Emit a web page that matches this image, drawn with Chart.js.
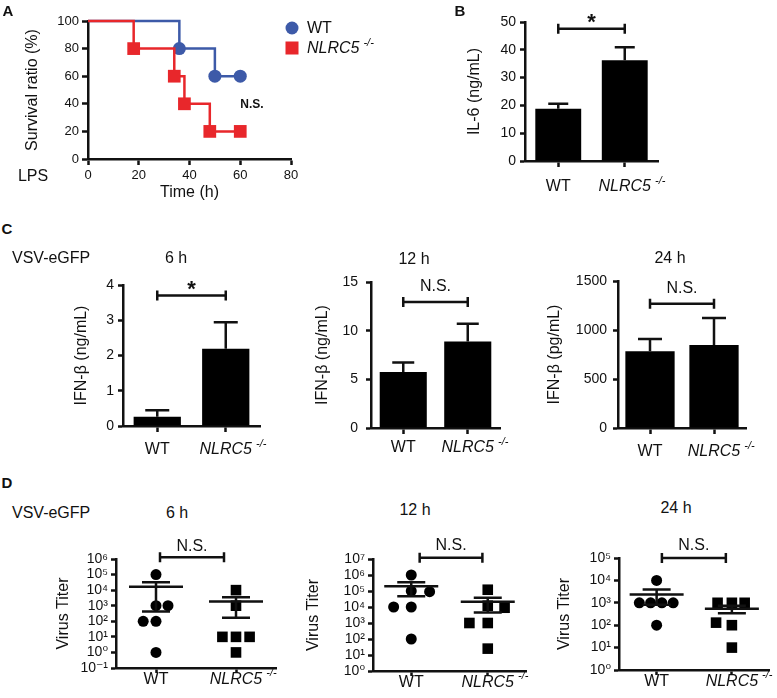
<!DOCTYPE html>
<html><head><meta charset="utf-8">
<script src="https://cdn.jsdelivr.net/npm/chart.js@4"></script>
<style>
html,body{margin:0;padding:0;background:#fff;}
#fig{position:relative;width:777px;height:698px;overflow:hidden;font-family:'Liberation Sans',Arial,Helvetica,sans-serif;color:#111;}
#fig canvas{position:absolute;}
.t{position:absolute;white-space:nowrap;line-height:1;transform:translate(-50%,-50%);}
.tl{position:absolute;white-space:nowrap;line-height:1;transform:translate(0,-50%);}
.b{font-weight:bold;}
</style></head><body><div id="fig"></div>
<script>
// ---------------- data ----------------
const groups = ['WT', 'NLRC5'];
const genotypeSuffix = '-/-';
const seriesNames = ['WT', 'NLRC5'];

// Panel A: survival after LPS
const timeWT = [0, 36, 50, 60];
const survivalWT = [100, 80, 60, 60];
const timeKO = [0, 18, 34, 38, 48, 60];
const survivalKO = [100, 80, 60, 40, 20, 20];
const timeTicks = [0, 20, 40, 60, 80];
const survivalTicks = [0, 20, 40, 60, 80, 100];

// Panel B: IL-6
const il6Mean = [18.8, 36.2];
const il6Sem = [1.8, 4.7];
const il6Ticks = [0, 10, 20, 30, 40, 50];

// Panel C: IFN-beta
const ifn6Mean = [0.26, 2.19];
const ifn6Sem = [0.19, 0.75];
const ifn6Ticks = [0, 1, 2, 3, 4];
const ifn12Mean = [5.75, 8.88];
const ifn12Sem = [0.97, 1.82];
const ifn12Ticks = [0, 5, 10, 15];
const ifn24Mean = [782, 847];
const ifn24Sem = [126, 275];
const ifn24Ticks = [0, 500, 1000, 1500];

// Panel D: virus titer (points, group position incl. jitter, mean, SEM)
const titer6WT = [1e5, 1e3, 1e3, 1e2, 1e2, 1];
const titer6WTPos = [1.0, 1.0, 1.15, 0.84, 1.0, 1.0];
const titer6KO = [1e4, 1e3, 10, 10, 10, 1];
const titer6KOPos = [2.0, 2.0, 1.83, 2.0, 2.17, 2.0];
const titer6Mean = [16500, 1860];
const titer6Sem = [16070, 1690];
const titer6Ticks = [0.1, 1, 10, 100, 1e3, 1e4, 1e5, 1e6];

const titer12WT = [1e6, 1e5, 9e4, 1e4, 1e4, 100];
const titer12WTPos = [1.0, 1.0, 1.24, 0.77, 1.0, 1.0];
const titer12KO = [1.2e5, 1.2e4, 9e3, 1e3, 1e3, 25];
const titer12KOPos = [2.0, 2.0, 2.22, 1.76, 2.0, 2.0];
const titer12Mean = [197500, 21300];
const titer12Sem = [150000, 16700];
const titer12Ticks = [1, 10, 100, 1e3, 1e4, 1e5, 1e6, 1e7];

const titer24WT = [1e4, 1e3, 1e3, 1e3, 1e3, 100];
const titer24WTPos = [1.0, 0.77, 0.92, 1.07, 1.22, 1.0];
const titer24KO = [1e3, 1e3, 1e3, 130, 100, 10];
const titer24KOPos = [1.81, 2.0, 2.17, 1.79, 2.0, 2.0];
const titer24Mean = [2350, 540];
const titer24Sem = [1540, 200];
const titer24Ticks = [1, 10, 100, 1e3, 1e4, 1e5];

// ---------------- helpers ----------------
const FONT = "'Liberation Sans', Arial, Helvetica, 'DejaVu Sans', sans-serif";
const INK = '#111';
const BLUE = '#3d5aa8';
const RED = '#e8272b';
Chart.defaults.font.family = FONT;
Chart.defaults.color = INK;
const fig = document.getElementById('fig');

function text(str, x, y, size, cls, extra) {
  const d = document.createElement('div');
  d.className = cls || 't';
  d.style.left = x + 'px'; d.style.top = y + 'px'; d.style.fontSize = size + 'px';
  d.innerHTML = str;
  if (extra) Object.assign(d.style, extra);
  fig.appendChild(d);
}
function addCanvas(box) {
  const c = document.createElement('canvas');
  c.width = box.w; c.height = box.h;
  c.style.left = box.x + 'px'; c.style.top = box.y + 'px';
  c.style.width = box.w + 'px'; c.style.height = box.h + 'px';
  fig.appendChild(c);
  return c;
}
function frame(box, plot, yTitleCx, xTitleCy) {
  const lh = 16 * 1.2;
  const left = yTitleCx - box.x - lh / 2;
  const yW = plot.l - box.x - left;
  const bottom = xTitleCy ? (box.y + box.h - xTitleCy - lh / 2) : 0;
  const xH = box.y + box.h - bottom - plot.b;
  return { padding: { left, top: plot.t - box.y, right: box.x + box.w - plot.r, bottom }, yW, xH };
}
function axisStyle(len) {
  return {
    grid: { display: true, drawOnChartArea: false, drawTicks: true, tickLength: len, tickWidth: 2.5, tickColor: INK, offset: false },
    border: { display: true, width: 2.5, color: INK }
  };
}
const SUP = { '-': '\u207B', '0': '\u2070', '1': '\u00B9', '2': '\u00B2', '3': '\u00B3', '4': '\u2074', '5': '\u2075', '6': '\u2076', '7': '\u2077', '8': '\u2078', '9': '\u2079' };
function powLabel(v) {
  const e = String(Math.round(Math.log10(v)));
  return '10' + e.split('').map(ch => SUP[ch]).join('');
}
function baseOptions(fr) {
  return {
    responsive: false, animation: false, devicePixelRatio: 1, events: [],
    layout: { padding: fr.padding },
    plugins: { legend: { display: false }, tooltip: { enabled: false } }
  };
}
function xGroupTicks(pad) {
  return {
    font: (c) => ({ size: 16, style: c.index === 1 ? 'italic' : 'normal' }),
    padding: pad, color: INK, maxRotation: 0, autoSkip: false
  };
}
// superscript "-/-" after the NLRC5 tick label
function supPlugin(value, pad, len) {
  return { id: 'sup', afterDraw(chart) {
    const s = chart.scales.x, ctx = chart.ctx;
    const px = s.getPixelForValue(value);
    ctx.save();
    ctx.font = 'italic 16px ' + FONT;
    const w = ctx.measureText(groups[1]).width;
    const cy = s.top + len + pad + 16 * 1.2 / 2;
    ctx.font = 'italic 11px ' + FONT;
    ctx.fillStyle = INK; ctx.textAlign = 'left'; ctx.textBaseline = 'middle';
    ctx.fillText(genotypeSuffix, px + w / 2 + 4, cy - 6);
    ctx.restore();
  } };
}
function bracketPlugin(b) {
  return { id: 'bracket', afterDraw(chart) {
    const xs = chart.scales.x, ys = chart.scales.y, ctx = chart.ctx;
    const x1 = xs.getPixelForValue(b.from), x2 = xs.getPixelForValue(b.to), y = ys.getPixelForValue(b.level);
    ctx.save();
    ctx.strokeStyle = INK; ctx.lineWidth = 2.5; ctx.lineCap = 'butt';
    ctx.beginPath();
    ctx.moveTo(x1, y); ctx.lineTo(x2, y);
    ctx.moveTo(x1, y - 5); ctx.lineTo(x1, y + 5);
    ctx.moveTo(x2, y - 5); ctx.lineTo(x2, y + 5);
    ctx.stroke();
    ctx.font = b.font; ctx.fillStyle = INK; ctx.textAlign = 'center'; ctx.textBaseline = 'middle';
    ctx.fillText(b.text, (x1 + x2) / 2, y - b.dy);
    ctx.restore();
  } };
}
function barErrorPlugin(mean, sem, cap) {
  return { id: 'barerr', afterDatasetsDraw(chart) {
    const ys = chart.scales.y, ctx = chart.ctx;
    const meta = chart.getDatasetMeta(0);
    ctx.save(); ctx.strokeStyle = INK; ctx.lineWidth = 2.5;
    meta.data.forEach((bar, i) => {
      const top = ys.getPixelForValue(mean[i] + sem[i]);
      ctx.beginPath();
      ctx.moveTo(bar.x, bar.y); ctx.lineTo(bar.x, top);
      ctx.moveTo(bar.x - cap, top); ctx.lineTo(bar.x + cap, top);
      ctx.stroke();
    });
    ctx.restore();
  } };
}
function meanSemPlugin(mean, sem, half, cap) {
  return { id: 'meansem', afterDatasetsDraw(chart) {
    const xs = chart.scales.x, ys = chart.scales.y, ctx = chart.ctx;
    ctx.save(); ctx.strokeStyle = INK; ctx.lineWidth = 2.5;
    mean.forEach((m, i) => {
      const x = xs.getPixelForValue(i + 1);
      const ym = ys.getPixelForValue(m), yu = ys.getPixelForValue(m + sem[i]), yl = ys.getPixelForValue(m - sem[i]);
      ctx.beginPath();
      ctx.moveTo(x - half, ym); ctx.lineTo(x + half, ym);
      ctx.moveTo(x, yu); ctx.lineTo(x, yl);
      ctx.moveTo(x - cap, yu); ctx.lineTo(x + cap, yu);
      ctx.moveTo(x - cap, yl); ctx.lineTo(x + cap, yl);
      ctx.stroke();
    });
    ctx.restore();
  } };
}

// ---------------- bar panels ----------------
function barPanel(p) {
  const fr = frame(p.box, p.plot, p.yTitleCx);
  const opts = baseOptions(fr);
  opts.scales = {
    x: Object.assign({ type: 'category', offset: true, afterFit: s => { s.height = fr.xH; }, ticks: xGroupTicks(p.xPad) }, axisStyle(6)),
    y: Object.assign({
      type: 'linear', min: p.ticks[0], max: p.ticks[p.ticks.length - 1],
      afterBuildTicks: s => { s.ticks = p.ticks.map(v => ({ value: v })); },
      afterFit: s => { s.width = fr.yW; },
      ticks: { font: { size: 14 }, padding: p.yPad, color: INK, autoSkip: false, callback: v => String(v) },
      title: { display: true, text: p.yTitle, font: { size: 16 }, padding: 0, color: INK }
    }, axisStyle(5))
  };
  new Chart(addCanvas(p.box), {
    type: 'bar',
    data: { labels: groups, datasets: [{ data: p.mean, backgroundColor: '#000', borderWidth: 0, categoryPercentage: 1, barPercentage: p.bp }] },
    options: opts,
    plugins: [barErrorPlugin(p.mean, p.sem, p.cap), bracketPlugin(p.bracket), supPlugin(1, p.xPad, 6)]
  });
}

// ---------------- dot panels ----------------
function dotPanel(p) {
  const fr = frame(p.box, p.plot, p.yTitleCx);
  const opts = baseOptions(fr);
  opts.scales = {
    x: Object.assign({
      type: 'linear', min: 0.5, max: 2.5,
      afterBuildTicks: s => { s.ticks = [{ value: 1 }, { value: 2 }]; },
      afterFit: s => { s.height = fr.xH; },
      ticks: Object.assign(xGroupTicks(p.xPad), { callback: v => groups[Math.round(v) - 1] })
    }, axisStyle(5)),
    y: Object.assign({
      type: 'logarithmic', min: p.ticks[0], max: p.ticks[p.ticks.length - 1],
      afterBuildTicks: s => { s.ticks = p.ticks.map(v => ({ value: v })); },
      afterFit: s => { s.width = fr.yW; },
      ticks: { font: { size: 14 }, padding: 3, color: INK, autoSkip: false, callback: v => powLabel(v) },
      title: { display: true, text: 'Virus Titer', font: { size: 16 }, padding: 0, color: INK }
    }, axisStyle(5))
  };
  const pts = (vals, pos) => vals.map((v, i) => ({ x: pos[i], y: v }));
  new Chart(addCanvas(p.box), {
    type: 'scatter',
    data: { datasets: [
      { label: seriesNames[0], data: pts(p.wt, p.wtPos), pointStyle: 'circle', pointRadius: 5.5, backgroundColor: '#000', borderWidth: 0, clip: false },
      { label: seriesNames[1], data: pts(p.ko, p.koPos), pointStyle: 'rect', pointRadius: 7.5, backgroundColor: '#000', borderWidth: 0, clip: false }
    ] },
    options: opts,
    plugins: [meanSemPlugin(p.mean, p.sem, 27, 14), bracketPlugin(p.bracket), supPlugin(2, p.xPad, 5)]
  });
}

// ---------------- Panel A ----------------
(function () {
  const box = { x: 0, y: 0, w: 400, h: 205 };
  const plot = { l: 88, t: 21, r: 291, b: 159 };
  const fr = frame(box, plot, 32.5, 193);
  const opts = baseOptions(fr);
  opts.scales = {
    x: Object.assign({
      type: 'linear', min: 0, max: 80,
      afterBuildTicks: s => { s.ticks = timeTicks.map(v => ({ value: v })); },
      afterFit: s => { s.height = fr.xH; },
      ticks: { font: { size: 13 }, padding: 3, color: INK, maxRotation: 0 },
      title: { display: true, text: 'Time (h)', font: { size: 16 }, padding: 0, color: INK }
    }, axisStyle(6)),
    y: Object.assign({
      type: 'linear', min: 0, max: 100,
      afterBuildTicks: s => { s.ticks = survivalTicks.map(v => ({ value: v })); },
      afterFit: s => { s.width = fr.yW; },
      ticks: { font: { size: 13 }, padding: 3, color: INK },
      title: { display: true, text: 'Survival ratio (%)', font: { size: 16 }, padding: 0, color: INK }
    }, axisStyle(6))
  };
  const legendPlugin = { id: 'legendA', afterDraw(chart) {
    const ctx = chart.ctx, ca = chart.chartArea;
    const x = ca.right + 1;
    ctx.save();
    chart.data.datasets.forEach((ds, i) => {
      const y = ca.top + 7 + i * 20;
      ctx.fillStyle = ds.borderColor;
      if (ds.pointStyle === 'circle') { ctx.beginPath(); ctx.arc(x, y, 6.5, 0, Math.PI * 2); ctx.fill(); }
      else { ctx.fillRect(x - 6.5, y - 6.5, 13, 13); }
      ctx.fillStyle = INK; ctx.textAlign = 'left'; ctx.textBaseline = 'middle';
      ctx.font = (i === 1 ? 'italic ' : '') + '16px ' + FONT;
      ctx.fillText(ds.label, x + 15, y + 1);
      if (i === 1) {
        const w = ctx.measureText(ds.label).width;
        ctx.font = 'italic 11px ' + FONT;
        ctx.fillText(genotypeSuffix, x + 15 + w + 4, y - 5);
      }
    });
    ctx.font = 'bold 12px ' + FONT; ctx.textAlign = 'center';
    ctx.fillText('N.S.', chart.scales.x.getPixelForValue(64.6), chart.scales.y.getPixelForValue(39));
    ctx.restore();
  } };
  const dotR = (r) => (c) => (c.dataIndex === 0 ? 0 : r);
  new Chart(addCanvas(box), {
    type: 'line',
    data: { datasets: [
      { label: seriesNames[0], data: timeWT.map((t, i) => ({ x: t, y: survivalWT[i] })), borderColor: BLUE, backgroundColor: BLUE,
        stepped: 'before', borderWidth: 2.5, pointStyle: 'circle', pointRadius: dotR(6.5), pointBorderWidth: 0, fill: false, clip: false, order: 1 },
      { label: seriesNames[1], data: timeKO.map((t, i) => ({ x: t, y: survivalKO[i] })), borderColor: RED, backgroundColor: RED,
        stepped: 'before', borderWidth: 2.5, pointStyle: 'rect', pointRadius: dotR(9), pointBorderWidth: 0, fill: false, clip: false, order: 0 }
    ] },
    options: opts,
    plugins: [legendPlugin]
  });
})();

// ---------------- Panel B ----------------
barPanel({ box: { x: 400, y: 0, w: 300, h: 205 }, plot: { l: 525, t: 22, r: 658, b: 161 }, yTitleCx: 475, yTitle: 'IL-6 (ng/mL)',
  ticks: il6Ticks, mean: il6Mean, sem: il6Sem, bp: 0.69, cap: 10, xPad: 10, yPad: 4,
  bracket: { from: 0, to: 1, level: 47.6, text: '*', font: 'bold 22px ' + FONT, dy: 6 } });

// ---------------- Panel C ----------------
barPanel({ box: { x: 0, y: 262, w: 280, h: 200 }, plot: { l: 123, t: 285, r: 260, b: 426 }, yTitleCx: 82, yTitle: 'IFN-\u03B2 (ng/mL)',
  ticks: ifn6Ticks, mean: ifn6Mean, sem: ifn6Sem, bp: 0.69, cap: 12, xPad: 8.4, yPad: 4,
  bracket: { from: 0, to: 1, level: 3.70, text: '*', font: 'bold 22px ' + FONT, dy: 6 } });
barPanel({ box: { x: 290, y: 262, w: 240, h: 200 }, plot: { l: 371, t: 282, r: 500, b: 428 }, yTitleCx: 322.5, yTitle: 'IFN-\u03B2 (ng/mL)',
  ticks: ifn12Ticks, mean: ifn12Mean, sem: ifn12Sem, bp: 0.73, cap: 11, xPad: 4.4, yPad: 8,
  bracket: { from: 0, to: 1, level: 12.95, text: 'N.S.', font: '16px ' + FONT, dy: 15 } });
barPanel({ box: { x: 540, y: 262, w: 237, h: 200 }, plot: { l: 618, t: 281, r: 746, b: 428 }, yTitleCx: 555, yTitle: 'IFN-\u03B2 (pg/mL)',
  ticks: ifn24Ticks, mean: ifn24Mean, sem: ifn24Sem, bp: 0.77, cap: 12, xPad: 8, yPad: 6,
  bracket: { from: 0, to: 1, level: 1269, text: 'N.S.', font: '16px ' + FONT, dy: 15 } });

// ---------------- Panel D ----------------
dotPanel({ box: { x: 0, y: 525, w: 290, h: 173 }, plot: { l: 116, t: 559, r: 276, b: 668 }, yTitleCx: 63.5,
  ticks: titer6Ticks, wt: titer6WT, wtPos: titer6WTPos, ko: titer6KO, koPos: titer6KOPos, mean: titer6Mean, sem: titer6Sem, xPad: -3.5,
  bracket: { from: 1.05, to: 1.85, level: 1.3e6, text: 'N.S.', font: '16px ' + FONT, dy: 11 } });
dotPanel({ box: { x: 290, y: 525, w: 250, h: 173 }, plot: { l: 373, t: 559, r: 526, b: 671 }, yTitleCx: 313.5,
  ticks: titer12Ticks, wt: titer12WT, wtPos: titer12WTPos, ko: titer12KO, koPos: titer12KOPos, mean: titer12Mean, sem: titer12Sem, xPad: -3.5,
  bracket: { from: 1.11, to: 1.93, level: 1.2e7, text: 'N.S.', font: '16px ' + FONT, dy: 12 } });
dotPanel({ box: { x: 540, y: 525, w: 237, h: 173 }, plot: { l: 619, t: 558, r: 770, b: 670 }, yTitleCx: 565,
  ticks: titer24Ticks, wt: titer24WT, wtPos: titer24WTPos, ko: titer24KO, koPos: titer24KOPos, mean: titer24Mean, sem: titer24Sem, xPad: -3.5,
  bracket: { from: 1.07, to: 1.92, level: 1e5, text: 'N.S.', font: '16px ' + FONT, dy: 12 } });

// ---------------- static labels ----------------
text('A', 8, 10, 15, 't b');
text('B', 460, 10, 15, 't b');
text('C', 7, 228, 15, 't b');
text('D', 7, 482, 15, 't b');
text('LPS', 33, 176, 16);
text('VSV-eGFP', 12, 258, 16, 'tl');
text('6 h', 176, 258, 16);
text('12 h', 414, 259, 16);
text('24 h', 670, 258, 16);
text('VSV-eGFP', 12, 513, 16, 'tl');
text('6 h', 177, 513, 16);
text('12 h', 415, 509.5, 16);
text('24 h', 676, 508, 16);
</script></body></html>
